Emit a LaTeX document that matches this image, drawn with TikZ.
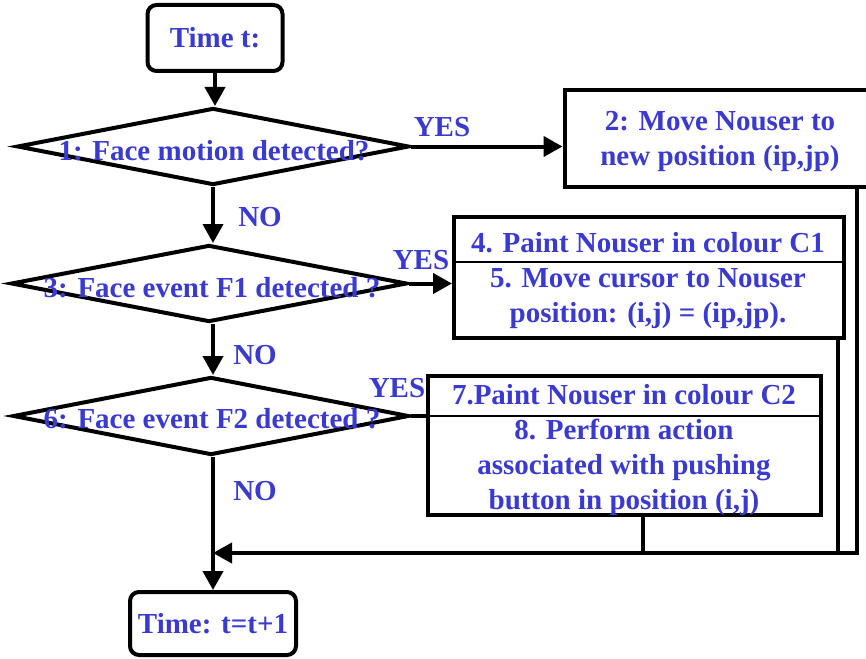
\documentclass[tikz,border=0pt]{standalone}
\usepackage{fontspec}
\setmainfont{Liberation Serif}
\usetikzlibrary{shapes.geometric,arrows.meta}
\definecolor{txtblue}{RGB}{58,58,208}
\tikzset{
  every node/.style={font=\fontsize{29}{35}\selectfont\bfseries, text=txtblue},
  lbl/.style={inner sep=0pt},
  term/.style={draw=black, line width=4pt, rounded corners=9pt, inner sep=0pt},
  dec/.style={draw=black, line width=4pt, shape=diamond, inner sep=0pt, aspect=5},
  box/.style={draw=black, line width=4pt, inner sep=0pt},
  flow/.style={line width=4pt, -{Triangle[length=19pt,width=20pt]}},
  plain/.style={line width=4pt},
}
\begin{document}
\begin{tikzpicture}[x=1pt,y=-1pt]
\useasboundingbox (0,0) rectangle (866,658);
% terminals
\node[term, minimum width=135, minimum height=66] (t1) at (215,38) {};
\node[lbl] (t1t) at (t1) {Time t:};
\node[term, minimum width=166, minimum height=63] (t2) at (213,623.5) {};
\node[lbl] (t2t) at (t2) {Time: t=t+1};
% decisions
\node[dec, minimum width=392, minimum height=77] (d1) at (213,146.5) {};
\node[dec, minimum width=396, minimum height=77] (d2) at (209,283.5) {};
\node[dec, minimum width=396, minimum height=78] (d3) at (211,416) {};
\node[lbl] (d1t) at (214,151) {1: Face motion detected?};
\node[lbl] (d2t) at (212,288) {3: Face event F1 detected ?};
\node[lbl] (d3t) at (212,419) {6: Face event F2 detected ?};
% boxes
\node[box, minimum width=303, minimum height=97] (b2) at (716,138.5) {};
\node[lbl, align=center] (b2t) at (720,141) {2: Move Nouser to\\new position (ip,jp)};
\node[box, minimum width=390, minimum height=121] (b45) at (649,277.5) {};
\node[lbl] (b4t) at (648,243) {4. Paint Nouser in colour C1};
\node[lbl, align=center] (b5t) at (648,299) {5. Move cursor to Nouser\\position: (i,j) = (ip,jp).};
\node[box, minimum width=393, minimum height=139] (b78) at (624,445.5) {};
\node[lbl] (b7t) at (624,395) {7.Paint Nouser in colour C2};
\node[lbl, align=center] (b8t) at (624,467) {8. Perform action\\associated with pushing\\button in position (i,j)};
\draw[line width=2pt] (b45.west |- 0,262) -- (b45.east |- 0,262);
\draw[line width=2pt] (b78.west |- 0,416) -- (b78.east |- 0,416);
% labels
\node[lbl] (y1) at (442,127) {YES};
\node[lbl] (y2) at (421,260) {YES};
\node[lbl] (y3) at (397,388) {YES};
\node[lbl] (n1) at (260,217) {NO};
\node[lbl] (n2) at (255,355) {NO};
\node[lbl] (n3) at (255,491) {NO};
% connectors
\draw[flow] (t1.south) -- (t1.south |- d1.north);
\draw[flow] (d1.east) -- (b2.west |- d1.east);
\draw[flow] (d1.south) -- (d1.south |- d2.north);
\draw[flow] (d2.east) -- (b45.west |- d2.east);
\draw[flow] (d2.south -| d1.south) -- (d1.south |- d3.north);
\draw[plain] (d3.east) -- (b78.west |- d3.east);
\draw[flow] (d1.south |- d3.south) -- (d1.south |- t2.north);
\coordinate (jn) at (213,553);
\coordinate (c2) at (857,553);
\draw[flow] (857,187) -- (c2) -- (jn);
\draw[plain] (838,338) -- (838,553);
\draw[plain] (643,515) -- (643,553);
\end{tikzpicture}
\end{document}
